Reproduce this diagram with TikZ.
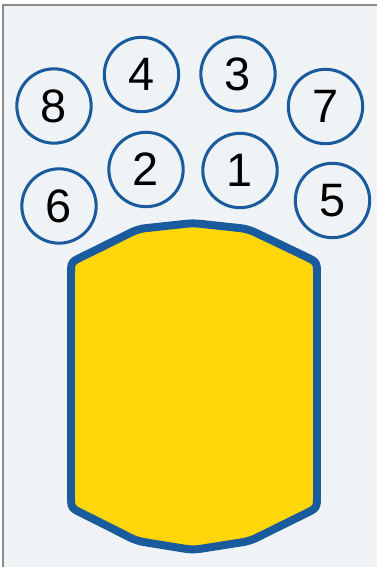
\documentclass[tikz,border=0pt]{standalone}
\usepackage{fontspec}
\setmainfont{Liberation Sans}
\definecolor{bgpanel}{HTML}{EFF3F5}
\definecolor{rimblue}{HTML}{1A5B9E}
\definecolor{padyellow}{HTML}{FFD60A}
\begin{document}
\begin{tikzpicture}[x=0.03cm,y=-0.03cm,
  contact/.style={circle,draw=rimblue,line width=2.6pt,fill=bgpanel,
    minimum size=2.23cm,inner sep=0pt,font=\fontsize{40}{46}\selectfont}]
\useasboundingbox (0,0) rectangle (377,567);
\fill[bgpanel] (3,5) rectangle (377,567);
\draw[gray!90,line width=0.9pt] (3,567) -- (3,5) -- (377,5);

\node[contact] (c4) at (141.5,74.5) {4};
\node[contact] (c3) at (238,74) {3};
\node[contact] (c8) at (54,106) {8};
\node[contact] (c7) at (325.5,106.5) {7};
\node[contact] (c2) at (146,169.5) {2};
\node[contact] (c1) at (240,170.5) {1};
\node[contact] (c6) at (59,206) {6};
\node[contact] (c5) at (332.5,200.5) {5};

\draw[rimblue,fill=padyellow,line width=6.8pt,line join=round,rounded corners=6]
  (193,223) -- (248,229) -- (299,253.4) .. controls (317,262) .. (317,282)
  -- (317,488) .. controls (317,508) .. (299,516.8) -- (250,541) -- (193,550)
  -- (137,541) -- (89,516.8) .. controls (71,508) .. (71,488)
  -- (71,282) .. controls (71,262) .. (89,253.4) -- (138,229) -- cycle;
\end{tikzpicture}
\end{document}
